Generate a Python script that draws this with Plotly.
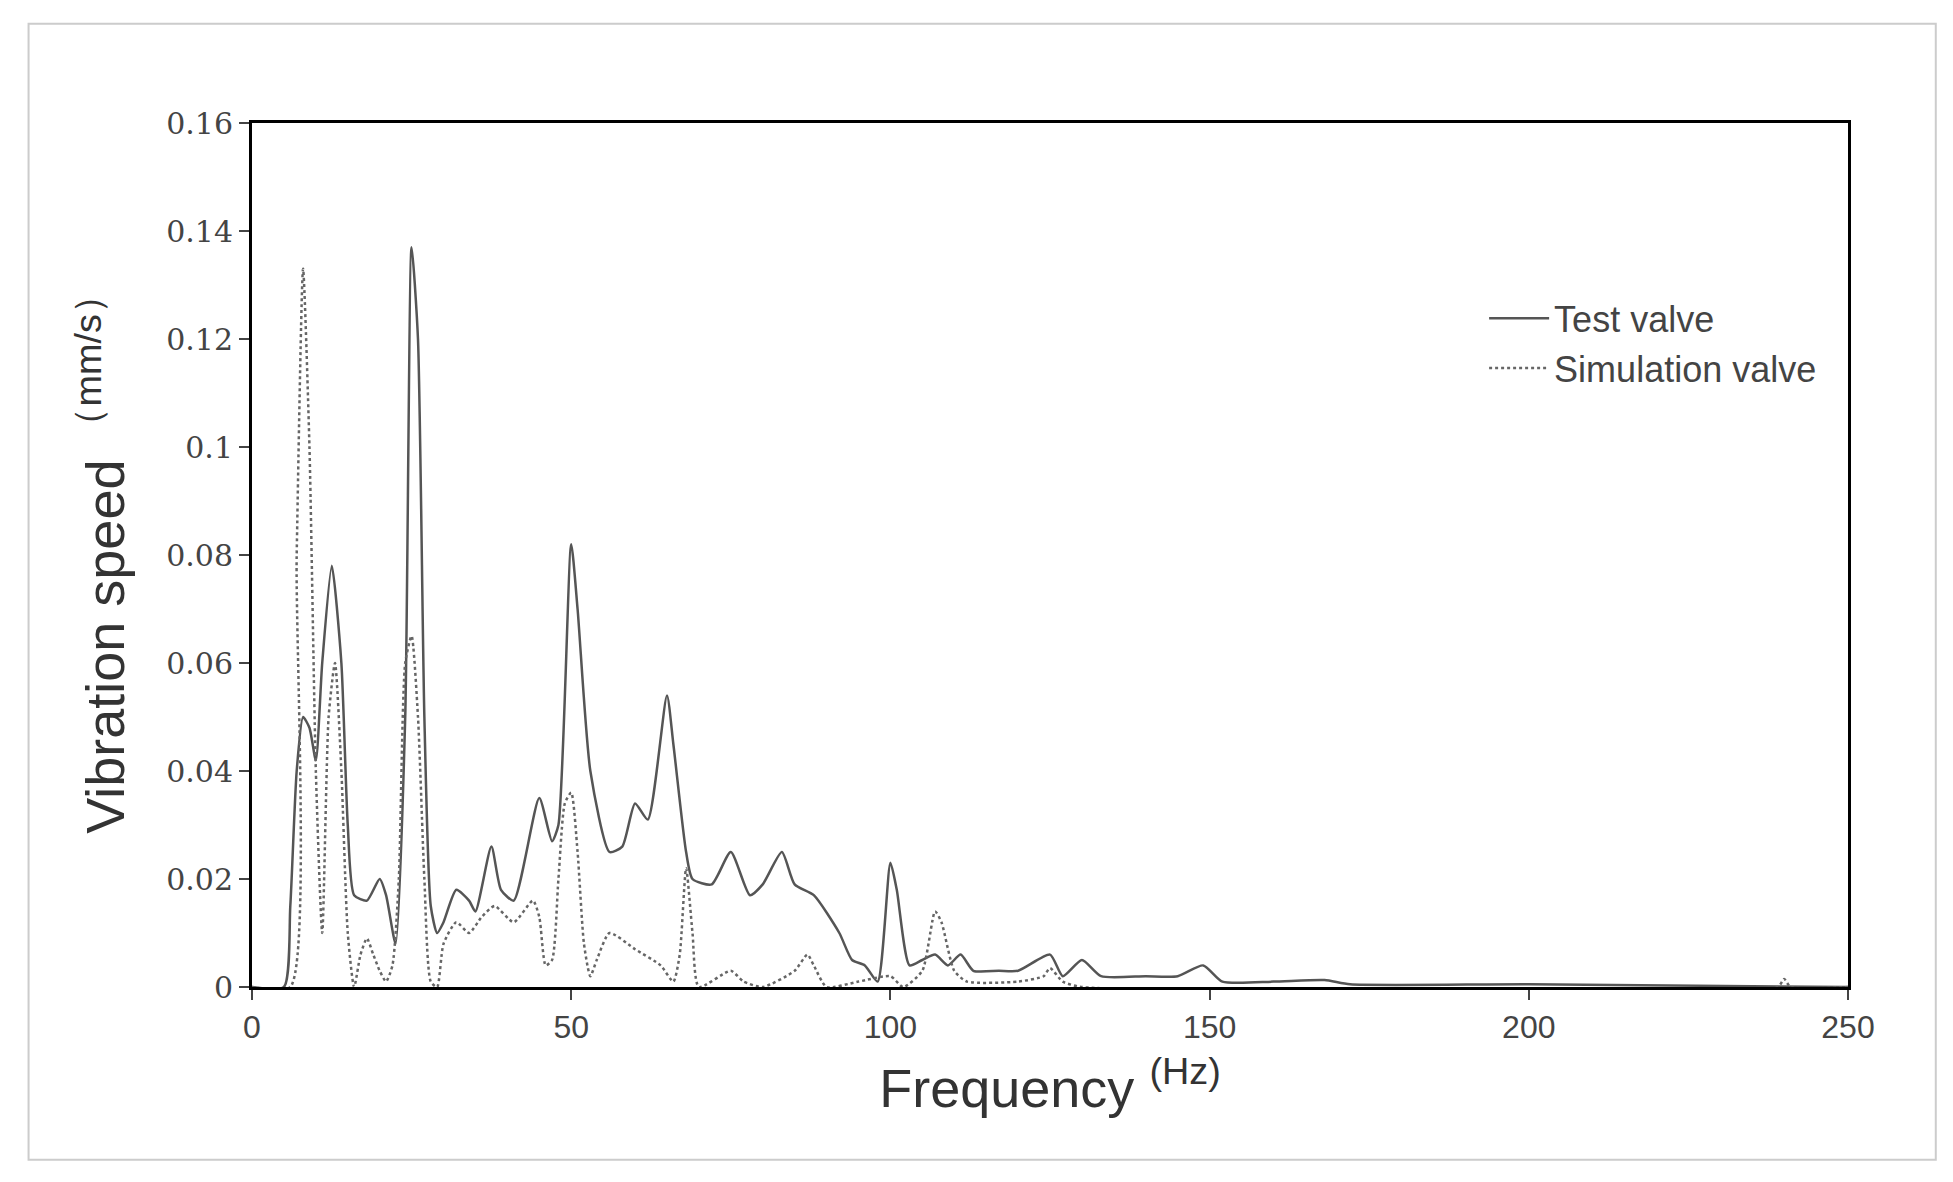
import plotly.graph_objects as go

test_f = [0,5,6,7,8,9,10,11,12.5,14,15,16,18,20,21,22.5,24,25,26,27,28,29,30,32,34,35,37.5,39,41,45,47,48,50,51,53,56,58,60,62,65,66,68,69,72,75,78,80,83,85,88,92,94,96,98,100,101,103,105,107,109,111,113,117,120,125,127,130,133,140,145,149,152,160,168,172,200,250]
test_v = [0,0,0.015,0.04,0.05,0.048,0.042,0.06,0.078,0.06,0.03,0.017,0.016,0.02,0.017,0.008,0.05,0.137,0.12,0.05,0.015,0.01,0.012,0.018,0.016,0.014,0.026,0.018,0.016,0.035,0.027,0.03,0.082,0.07,0.04,0.025,0.026,0.034,0.031,0.054,0.045,0.025,0.02,0.019,0.025,0.017,0.019,0.025,0.019,0.017,0.01,0.005,0.004,0.001,0.023,0.018,0.004,0.005,0.006,0.004,0.006,0.003,0.003,0.003,0.006,0.002,0.005,0.002,0.002,0.002,0.004,0.001,0.001,0.0013,0.0005,0.0005,0]

sim_f = [0,6,7,8,9,10,11,12,13,14,15,16,17,18,19,20,21,22,23,24,25,26,27,28,29,30,32,34,36,38,41,44,45,46,47,48,49,50,51,52,53,54,56,60,64,66,67,68,69,70,75,77,80,85,87,88,90,95,100,102,105,107,108,110,112,120,124,125,127,130,239,240,241,250]
sim_v = [0,0,0.08,0.133,0.1,0.04,0.01,0.05,0.06,0.04,0.01,0,0.006,0.009,0.006,0.003,0.001,0.004,0.02,0.06,0.065,0.05,0.02,0.001,0,0.008,0.012,0.01,0.013,0.015,0.012,0.016,0.013,0.004,0.005,0.02,0.034,0.036,0.025,0.008,0.002,0.005,0.01,0.007,0.004,0.001,0.006,0.022,0.01,0,0.003,0.001,0,0.003,0.006,0.004,0,0.001,0.002,0,0.003,0.014,0.012,0.003,0.001,0.001,0.002,0.0035,0.001,0,0,0.0015,0,0]

y_ticks = [0,0.02,0.04,0.06,0.08,0.1,0.12,0.14,0.16]
y_labels = ["0","0.02","0.04","0.06","0.08","0.1","0.12","0.14","0.16"]
x_ticks = [0,50,100,150,200,250]

fig = go.Figure()
fig.add_trace(go.Scatter(x=test_f, y=test_v, mode="lines", name="Test valve",
                         line=dict(color="#555555", width=2.5, shape="spline", smoothing=0.6)))
fig.add_trace(go.Scatter(x=sim_f, y=sim_v, mode="lines", name="Simulation valve",
                         line=dict(color="#666666", width=2.5, dash="dot", shape="spline", smoothing=0.6)))

fig.update_layout(
    width=1953, height=1182, paper_bgcolor="white", plot_bgcolor="white",
    margin=dict(l=244, r=113, t=115, b=203),
    showlegend=True,
    legend=dict(x=0.772, y=0.745, xanchor="left", yanchor="middle", bgcolor="rgba(0,0,0,0)",
                font=dict(family="Liberation Sans Narrow, Arial Narrow, Liberation Sans", size=36, color="#444"),
                tracegroupgap=55, itemwidth=60),
    xaxis=dict(range=[0,250], tickvals=x_ticks, ticks="outside", ticklen=10, tickwidth=2,
               showgrid=False, zeroline=False, showline=True, linecolor="black", linewidth=3, mirror=True,
               tickfont=dict(family="Liberation Sans Narrow, Liberation Sans", size=32, color="#444"),
               title=dict(text="Frequency <sup>(Hz)</sup>", font=dict(family="Liberation Sans", size=54, color="#333"), standoff=25)),
    yaxis=dict(range=[0,0.16], tickvals=y_ticks, ticktext=y_labels, ticks="outside", ticklen=10, tickwidth=2,
               showgrid=False, zeroline=False, showline=True, linecolor="black", linewidth=3, mirror=True,
               tickfont=dict(family="DejaVu Serif", size=30, color="#444"),
               title=dict(text="Vibration speed <sup>（mm/s）</sup>", font=dict(family="Liberation Sans", size=54, color="#333"), standoff=25)),
    shapes=[dict(type="rect", xref="paper", yref="paper", x0=-0.140, x1=1.055, y0=-0.20, y1=1.115,
                 line=dict(color="#cccccc", width=2))],
)
fig.write_html("out.html")
